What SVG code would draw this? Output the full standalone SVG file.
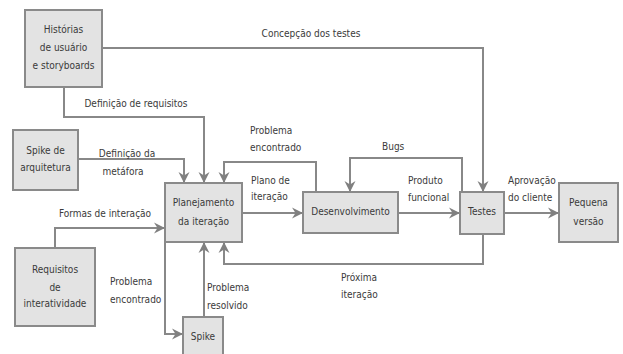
<svg xmlns="http://www.w3.org/2000/svg" width="623" height="354" viewBox="0 0 623 354">
<style>
.box{fill:#e3e3e3;stroke:#8a8a8a;stroke-width:2}
.t{font-family:"DejaVu Sans Condensed","DejaVu Sans",sans-serif;font-size:10px;fill:#3a3a3a}
.c{text-anchor:middle}
.ln{fill:none;stroke:#888;stroke-width:2;marker-end:url(#ah)}
</style>
<defs>
<marker id="ah" markerUnits="userSpaceOnUse" markerWidth="12" markerHeight="12" refX="11" refY="6" orient="auto">
<path d="M0,0.5 L11,6 L0,11.5 L3.5,6 z" fill="#808080"/>
</marker>
</defs>
<rect width="623" height="354" fill="#fff"/>
<g id="connectors">
<path class="ln" d="M102,48 H483 V192"/>
<path class="ln" d="M64,87 V117 H204 V183"/>
<path class="ln" d="M78,159 H184 V183"/>
<path class="ln" d="M316,192 V162 H224 V183"/>
<path class="ln" d="M242,213 H303"/>
<path class="ln" d="M462,192 V158 H350 V192"/>
<path class="ln" d="M398,213 H460"/>
<path class="ln" d="M504,213 H559"/>
<path class="ln" d="M483,234 V264 H224 V242"/>
<path class="ln" d="M55,248 V228 H165"/>
<path class="ln" d="M165,242 V334 H183"/>
<path class="ln" d="M204,317 V242"/>
</g>
<g id="labels">
<text class="t c" x="311" y="37">Concepção dos testes</text>
<text class="t c" x="136" y="107">Definição de requisitos</text>
<text class="t c" x="127" y="157">Definição da</text>
<text class="t c" x="123" y="175">metáfora</text>
<text class="t" x="250" y="134">Problema</text>
<text class="t" x="250" y="151">encontrado</text>
<text class="t" x="251" y="184">Plano de</text>
<text class="t" x="251" y="200">iteração</text>
<text class="t" x="382" y="150">Bugs</text>
<text class="t" x="408" y="184">Produto</text>
<text class="t" x="408" y="201">funcional</text>
<text class="t" x="508" y="184">Aprovação</text>
<text class="t" x="508" y="201">do cliente</text>
<text class="t" x="341" y="281">Próxima</text>
<text class="t" x="341" y="298">iteração</text>
<text class="t c" x="105" y="217">Formas de interação</text>
<text class="t" x="110" y="285">Problema</text>
<text class="t" x="110" y="303">encontrado</text>
<text class="t" x="207" y="291">Problema</text>
<text class="t" x="207" y="309">resolvido</text>
</g>
<g id="historias">
<rect class="box" x="25" y="10" width="77" height="77"/>
<text class="t c" x="63.5" y="33">Histórias</text>
<text class="t c" x="63.5" y="51">de usuário</text>
<text class="t c" x="63.5" y="69">e storyboards</text>
</g>
<g id="spike-arquitetura">
<rect class="box" x="13" y="130" width="65" height="60"/>
<text class="t c" x="45.5" y="154">Spike de</text>
<text class="t c" x="45.5" y="171">arquitetura</text>
</g>
<g id="planejamento">
<rect class="box" x="165" y="183" width="77" height="59"/>
<text class="t c" x="203.5" y="206">Planejamento</text>
<text class="t c" x="203.5" y="225">da iteração</text>
</g>
<g id="desenvolvimento">
<rect class="box" x="303" y="192" width="95" height="41"/>
<text class="t c" x="350.5" y="215">Desenvolvimento</text>
</g>
<g id="testes">
<rect class="box" x="460" y="192" width="44" height="42"/>
<text class="t c" x="482" y="215">Testes</text>
</g>
<g id="pequena-versao">
<rect class="box" x="559" y="183" width="59" height="59"/>
<text class="t c" x="588.5" y="206">Pequena</text>
<text class="t c" x="588.5" y="225">versão</text>
</g>
<g id="requisitos">
<rect class="box" x="15" y="248" width="80" height="78"/>
<text class="t c" x="55" y="273">Requisitos</text>
<text class="t c" x="55" y="291">de</text>
<text class="t c" x="55" y="307">interatividade</text>
</g>
<g id="spike">
<rect class="box" x="183" y="317" width="40" height="45"/>
<text class="t c" x="203" y="340">Spike</text>
</g>
</svg>
